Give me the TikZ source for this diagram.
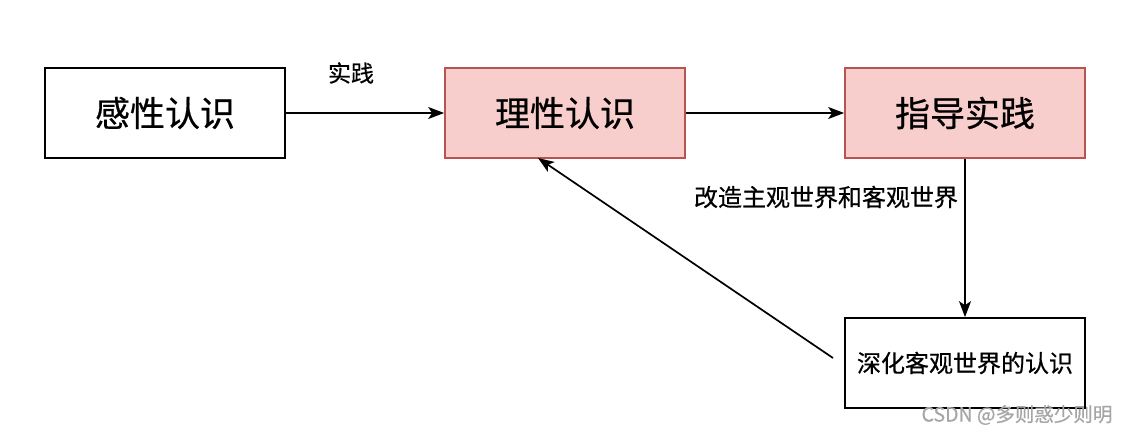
\documentclass[tikz,border=0pt]{standalone}
\usepackage{fontspec}
\setmainfont{Noto Sans CJK SC}[FakeBold=0.6]
\usetikzlibrary{arrows.meta}
\definecolor{pinkfill}{HTML}{F8CECC}
\definecolor{pinkdraw}{HTML}{B85450}
\tikzset{
  box/.style={draw=black, line width=1.7pt, minimum width=240pt, minimum height=90pt, inner sep=0pt, font=\fontsize{35}{40}\selectfont},
  pinkbox/.style={box, fill=pinkfill, draw=pinkdraw},
  smallbox/.style={box, font=\fontsize{24}{28}\selectfont},
  conn/.style={line width=1.7pt, -{Stealth[length=16pt,width=12pt,inset=4pt]}},
  lbl/.style={font=\fontsize{23}{26}\selectfont, inner sep=0pt},
}
\begin{document}
\begin{tikzpicture}[x=1pt,y=-1pt]
\useasboundingbox (0,0) rectangle (1128,436);
\node[box] (a) at (165,113) {感性认识};
\node[pinkbox] (b) at (565,113) {理性认识};
\node[pinkbox] (c) at (965,113) {指导实践};
\node[smallbox] (d) at (965,363) {深化客观世界的认识};
\coordinate (s) at (833,358);
\draw[conn] (a) -- (b);
\draw[conn] (b) -- (c);
\draw[conn] (c) -- (d);
\draw[conn] (s) -- (538,158);
\node[lbl] (l1) at (351,73) {实践};
\node[lbl, font=\fontsize{24}{27}\selectfont] (l2) at (826,197) {改造主观世界和客观世界};
\node[lbl, font=\fontsize{19.5}{22}\selectfont, text=black!35] (wm) at (1017,415) {CSDN @多则惑少则明};
\end{tikzpicture}
\end{document}
